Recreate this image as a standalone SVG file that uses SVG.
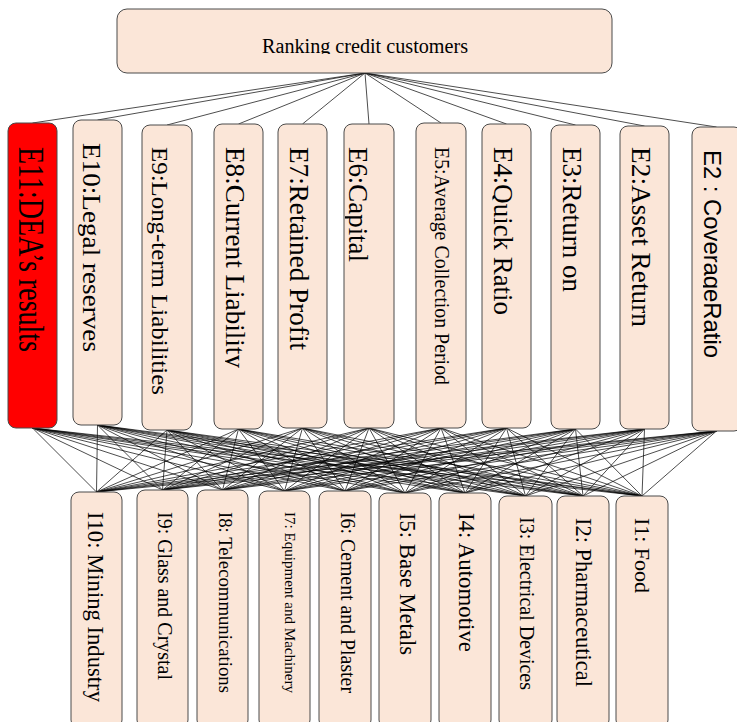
<svg xmlns="http://www.w3.org/2000/svg" width="737" height="722" viewBox="0 0 737 722">
<style>
.box{fill:#FBE6D8;stroke:#4a4a4a;stroke-width:1}
.red{fill:#FF0000;stroke:#4a4a4a;stroke-width:1}
.t{font-family:"Liberation Serif","Times New Roman",serif;fill:#000}
.s{font-family:"Liberation Sans",Arial,sans-serif;fill:#000}
#connectors line{stroke:#000;stroke-width:0.7}
</style>
<defs>
<clipPath id="cTitle"><rect x="117" y="9" width="495" height="45"/></clipPath>
<clipPath id="cE8"><rect x="225" y="124" width="38" height="305"/></clipPath>
<clipPath id="cE6"><rect x="345" y="124" width="49" height="304"/></clipPath>
<clipPath id="cE4"><rect x="492.5" y="124" width="39" height="304"/></clipPath>
<clipPath id="cEc"><rect x="703" y="127" width="40" height="304"/></clipPath>
</defs>
<rect width="737" height="722" fill="#fff"/>
<g id="connectors">
<line x1="365" y1="73" x2="32.5" y2="123"/><line x1="365" y1="73" x2="97.5" y2="120"/><line x1="365" y1="73" x2="167" y2="125"/><line x1="365" y1="73" x2="238.5" y2="124"/><line x1="365" y1="73" x2="302.5" y2="124"/><line x1="365" y1="73" x2="369" y2="124"/><line x1="365" y1="73" x2="441" y2="123"/><line x1="365" y1="73" x2="506.5" y2="124"/><line x1="365" y1="73" x2="575.5" y2="125"/><line x1="365" y1="73" x2="644.5" y2="126"/><line x1="365" y1="73" x2="716.5" y2="127"/>
<line x1="32.5" y1="428" x2="96.5" y2="492"/><line x1="32.5" y1="428" x2="162.5" y2="490"/><line x1="32.5" y1="428" x2="222.5" y2="490"/><line x1="32.5" y1="428" x2="284.5" y2="491"/><line x1="32.5" y1="428" x2="345" y2="491"/><line x1="32.5" y1="428" x2="405" y2="493"/><line x1="32.5" y1="428" x2="465" y2="493"/><line x1="32.5" y1="428" x2="525.5" y2="496"/><line x1="32.5" y1="428" x2="583" y2="496"/><line x1="32.5" y1="428" x2="642" y2="496"/>
<line x1="97.5" y1="425" x2="96.5" y2="492"/><line x1="97.5" y1="425" x2="162.5" y2="490"/><line x1="97.5" y1="425" x2="222.5" y2="490"/><line x1="97.5" y1="425" x2="284.5" y2="491"/><line x1="97.5" y1="425" x2="345" y2="491"/><line x1="97.5" y1="425" x2="405" y2="493"/><line x1="97.5" y1="425" x2="465" y2="493"/><line x1="97.5" y1="425" x2="525.5" y2="496"/><line x1="97.5" y1="425" x2="583" y2="496"/><line x1="97.5" y1="425" x2="642" y2="496"/>
<line x1="167" y1="430" x2="96.5" y2="492"/><line x1="167" y1="430" x2="162.5" y2="490"/><line x1="167" y1="430" x2="222.5" y2="490"/><line x1="167" y1="430" x2="284.5" y2="491"/><line x1="167" y1="430" x2="345" y2="491"/><line x1="167" y1="430" x2="405" y2="493"/><line x1="167" y1="430" x2="465" y2="493"/><line x1="167" y1="430" x2="525.5" y2="496"/><line x1="167" y1="430" x2="583" y2="496"/><line x1="167" y1="430" x2="642" y2="496"/>
<line x1="238.5" y1="429" x2="96.5" y2="492"/><line x1="238.5" y1="429" x2="162.5" y2="490"/><line x1="238.5" y1="429" x2="222.5" y2="490"/><line x1="238.5" y1="429" x2="284.5" y2="491"/><line x1="238.5" y1="429" x2="345" y2="491"/><line x1="238.5" y1="429" x2="405" y2="493"/><line x1="238.5" y1="429" x2="465" y2="493"/><line x1="238.5" y1="429" x2="525.5" y2="496"/><line x1="238.5" y1="429" x2="583" y2="496"/><line x1="238.5" y1="429" x2="642" y2="496"/>
<line x1="302.5" y1="428" x2="96.5" y2="492"/><line x1="302.5" y1="428" x2="162.5" y2="490"/><line x1="302.5" y1="428" x2="222.5" y2="490"/><line x1="302.5" y1="428" x2="284.5" y2="491"/><line x1="302.5" y1="428" x2="345" y2="491"/><line x1="302.5" y1="428" x2="405" y2="493"/><line x1="302.5" y1="428" x2="465" y2="493"/><line x1="302.5" y1="428" x2="525.5" y2="496"/><line x1="302.5" y1="428" x2="583" y2="496"/><line x1="302.5" y1="428" x2="642" y2="496"/>
<line x1="369" y1="428" x2="96.5" y2="492"/><line x1="369" y1="428" x2="162.5" y2="490"/><line x1="369" y1="428" x2="222.5" y2="490"/><line x1="369" y1="428" x2="284.5" y2="491"/><line x1="369" y1="428" x2="345" y2="491"/><line x1="369" y1="428" x2="405" y2="493"/><line x1="369" y1="428" x2="465" y2="493"/><line x1="369" y1="428" x2="525.5" y2="496"/><line x1="369" y1="428" x2="583" y2="496"/><line x1="369" y1="428" x2="642" y2="496"/>
<line x1="441" y1="428" x2="96.5" y2="492"/><line x1="441" y1="428" x2="162.5" y2="490"/><line x1="441" y1="428" x2="222.5" y2="490"/><line x1="441" y1="428" x2="284.5" y2="491"/><line x1="441" y1="428" x2="345" y2="491"/><line x1="441" y1="428" x2="405" y2="493"/><line x1="441" y1="428" x2="465" y2="493"/><line x1="441" y1="428" x2="525.5" y2="496"/><line x1="441" y1="428" x2="583" y2="496"/><line x1="441" y1="428" x2="642" y2="496"/>
<line x1="506.5" y1="428" x2="96.5" y2="492"/><line x1="506.5" y1="428" x2="162.5" y2="490"/><line x1="506.5" y1="428" x2="222.5" y2="490"/><line x1="506.5" y1="428" x2="284.5" y2="491"/><line x1="506.5" y1="428" x2="345" y2="491"/><line x1="506.5" y1="428" x2="405" y2="493"/><line x1="506.5" y1="428" x2="465" y2="493"/><line x1="506.5" y1="428" x2="525.5" y2="496"/><line x1="506.5" y1="428" x2="583" y2="496"/><line x1="506.5" y1="428" x2="642" y2="496"/>
<line x1="575.5" y1="429" x2="96.5" y2="492"/><line x1="575.5" y1="429" x2="162.5" y2="490"/><line x1="575.5" y1="429" x2="222.5" y2="490"/><line x1="575.5" y1="429" x2="284.5" y2="491"/><line x1="575.5" y1="429" x2="345" y2="491"/><line x1="575.5" y1="429" x2="405" y2="493"/><line x1="575.5" y1="429" x2="465" y2="493"/><line x1="575.5" y1="429" x2="525.5" y2="496"/><line x1="575.5" y1="429" x2="583" y2="496"/><line x1="575.5" y1="429" x2="642" y2="496"/>
<line x1="644.5" y1="429" x2="96.5" y2="492"/><line x1="644.5" y1="429" x2="162.5" y2="490"/><line x1="644.5" y1="429" x2="222.5" y2="490"/><line x1="644.5" y1="429" x2="284.5" y2="491"/><line x1="644.5" y1="429" x2="345" y2="491"/><line x1="644.5" y1="429" x2="405" y2="493"/><line x1="644.5" y1="429" x2="465" y2="493"/><line x1="644.5" y1="429" x2="525.5" y2="496"/><line x1="644.5" y1="429" x2="583" y2="496"/><line x1="644.5" y1="429" x2="642" y2="496"/>
<line x1="716.5" y1="431" x2="96.5" y2="492"/><line x1="716.5" y1="431" x2="162.5" y2="490"/><line x1="716.5" y1="431" x2="222.5" y2="490"/><line x1="716.5" y1="431" x2="284.5" y2="491"/><line x1="716.5" y1="431" x2="345" y2="491"/><line x1="716.5" y1="431" x2="405" y2="493"/><line x1="716.5" y1="431" x2="465" y2="493"/><line x1="716.5" y1="431" x2="525.5" y2="496"/><line x1="716.5" y1="431" x2="583" y2="496"/><line x1="716.5" y1="431" x2="642" y2="496"/>
</g>
<g id="goal">
<rect class="box" x="117" y="9" width="495" height="64" rx="10"/>
<g clip-path="url(#cTitle)"><text class="t" x="365" y="52.7" font-size="20" text-anchor="middle" textLength="206" lengthAdjust="spacingAndGlyphs">Ranking credit customers</text></g>
</g>
<g id="E11"><rect class="red" x="8" y="123" width="49" height="305" rx="8"/>
<text class="t" transform="translate(18.5,147) rotate(90) scale(1,1.3)" font-size="27" textLength="205" lengthAdjust="spacingAndGlyphs">E11:DEA’s results</text></g>
<g id="E10"><rect class="box" x="73" y="120" width="49" height="305" rx="8"/>
<text class="t" transform="translate(82.5,143) rotate(90)" font-size="26" textLength="209" lengthAdjust="spacingAndGlyphs">E10:Legal reserves</text></g>
<g id="E9"><rect class="box" x="142" y="125" width="50" height="305" rx="8"/>
<text class="t" transform="translate(152,147) rotate(90)" font-size="24" textLength="248" lengthAdjust="spacingAndGlyphs">E9:Long-term Liabilities</text></g>
<g id="E8"><rect class="box" x="214" y="124" width="49" height="305" rx="8"/>
<g clip-path="url(#cE8)"><text class="t" transform="translate(226,147) rotate(90)" font-size="27" textLength="221" lengthAdjust="spacingAndGlyphs">E8:Current Liability</text></g></g>
<g id="E7"><rect class="box" x="278" y="124" width="49" height="304" rx="8"/>
<text class="t" transform="translate(289.5,147) rotate(90)" font-size="27" textLength="203" lengthAdjust="spacingAndGlyphs">E7:Retained Profit</text></g>
<g id="E6"><rect class="box" x="344" y="124" width="50" height="304" rx="8"/>
<g clip-path="url(#cE6)"><text class="t" transform="translate(348.5,147) rotate(90)" font-size="27" textLength="115" lengthAdjust="spacingAndGlyphs">E6:Capital</text></g></g>
<g id="E5"><rect class="box" x="416" y="123" width="50" height="305" rx="8"/>
<text class="t" transform="translate(434.5,147) rotate(90)" font-size="20" textLength="238" lengthAdjust="spacingAndGlyphs">E5:Average Collection Period</text></g>
<g id="E4"><rect class="box" x="482" y="124" width="49" height="304" rx="8"/>
<g clip-path="url(#cE4)"><text class="t" transform="translate(493.5,147) rotate(90)" font-size="27" textLength="168" lengthAdjust="spacingAndGlyphs">E4:Quick Ratio</text></g></g>
<g id="E3"><rect class="box" x="551" y="125" width="49" height="304" rx="8"/>
<text class="t" transform="translate(562.5,147) rotate(90)" font-size="27" textLength="145" lengthAdjust="spacingAndGlyphs">E3:Return on</text></g>
<g id="E2a"><rect class="box" x="620" y="126" width="49" height="303" rx="8"/>
<text class="t" transform="translate(631.5,147) rotate(90)" font-size="27" textLength="180" lengthAdjust="spacingAndGlyphs">E2:Asset Return</text></g>
<g id="E2b"><rect class="box" x="692" y="127" width="50" height="304" rx="8"/>
<g clip-path="url(#cEc)"><text class="s" transform="translate(704,150) rotate(90)" font-size="24" textLength="208" lengthAdjust="spacingAndGlyphs">E2 : CoverageRatio</text></g></g>
<g id="I10"><rect class="box" x="71" y="492" width="51" height="236" rx="8"/>
<text class="t" transform="translate(88,512) rotate(90)" font-size="22.6" textLength="190" lengthAdjust="spacingAndGlyphs">I10: Mining Industry</text></g>
<g id="I9"><rect class="box" x="137" y="490" width="51" height="238" rx="8"/>
<text class="t" transform="translate(158,512) rotate(90)" font-size="20.5" textLength="168" lengthAdjust="spacingAndGlyphs">I9: Glass and Crystal</text></g>
<g id="I8"><rect class="box" x="197" y="490" width="51" height="238" rx="8"/>
<text class="t" transform="translate(219,512) rotate(90)" font-size="18.6" textLength="181" lengthAdjust="spacingAndGlyphs">I8: Telecommunications</text></g>
<g id="I7"><rect class="box" x="259" y="491" width="51" height="237" rx="8"/>
<text class="t" transform="translate(284.5,512) rotate(90)" font-size="15" textLength="181" lengthAdjust="spacingAndGlyphs">I7: Equipment and Machinery</text></g>
<g id="I6"><rect class="box" x="319" y="491" width="52" height="237" rx="8"/>
<text class="t" transform="translate(341,512) rotate(90)" font-size="20" textLength="181" lengthAdjust="spacingAndGlyphs">I6: Cement and Plaster</text></g>
<g id="I5"><rect class="box" x="379" y="493" width="52" height="235" rx="8"/>
<text class="t" transform="translate(400,513) rotate(90)" font-size="22.6" textLength="142" lengthAdjust="spacingAndGlyphs">I5: Base Metals</text></g>
<g id="I4"><rect class="box" x="439" y="493" width="52" height="235" rx="8"/>
<text class="t" transform="translate(459,513) rotate(90)" font-size="22.6" textLength="139" lengthAdjust="spacingAndGlyphs">I4: Automotive</text></g>
<g id="I3"><rect class="box" x="499" y="496" width="53" height="232" rx="8"/>
<text class="t" transform="translate(520,517) rotate(90)" font-size="20" textLength="173" lengthAdjust="spacingAndGlyphs">I3: Electrical Devices</text></g>
<g id="I2"><rect class="box" x="557" y="496" width="52" height="232" rx="8"/>
<text class="t" transform="translate(576,518) rotate(90)" font-size="22.5" textLength="169" lengthAdjust="spacingAndGlyphs">I2: Pharmaceutical</text></g>
<g id="I1"><rect class="box" x="616" y="496" width="52" height="232" rx="8"/>
<text class="t" transform="translate(635,518) rotate(90)" font-size="22" textLength="75" lengthAdjust="spacingAndGlyphs">I1: Food</text></g>
</svg>
